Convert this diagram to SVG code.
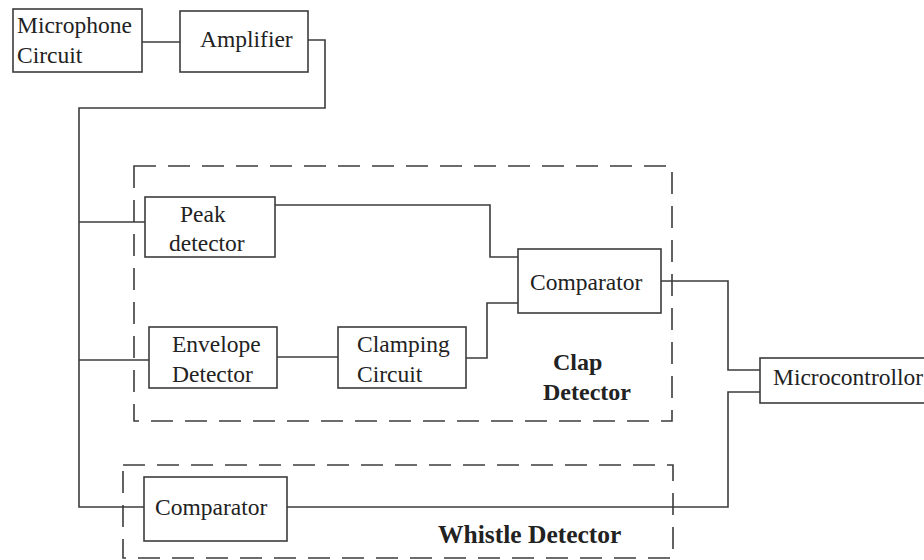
<svg xmlns="http://www.w3.org/2000/svg" width="924" height="560" viewBox="0 0 924 560">
<style>
.box{fill:#fff;stroke:#3c3c3c;stroke-width:1.6}
.grp{fill:none;stroke:#3c3c3c;stroke-width:1.6;stroke-dasharray:22 12}
.wire{fill:none;stroke:#3c3c3c;stroke-width:1.6}
text{font-family:"Liberation Serif","Times New Roman",serif;font-size:23.5px;fill:#222}
.b{font-weight:bold;font-size:24px}
</style>
<rect width="924" height="560" fill="#fff"/>
<g id="clap-group">
<rect class="grp" x="134" y="166" width="538" height="255"/>
<text class="b" x="553" y="370">Clap</text>
<text class="b" x="543" y="400">Detector</text>
</g>
<g id="whistle-group">
<rect class="grp" x="123" y="465" width="550" height="93"/>
<text class="b" x="438" y="543" style="font-size:25.5px">Whistle Detector</text>
</g>
<g id="connectors">
<path class="wire" d="M142 42H180"/>
<path class="wire" d="M308 40H325V108H79V507H144"/>
<path class="wire" d="M79 222H145"/>
<path class="wire" d="M79 360H149"/>
<path class="wire" d="M275 205H490V257H518"/>
<path class="wire" d="M277 357H338"/>
<path class="wire" d="M466 358H487V303H518"/>
<path class="wire" d="M661 281H728V370H760"/>
<path class="wire" d="M287 507H728V392H760"/>
</g>
<g id="microphone">
<rect class="box" x="13" y="9" width="129" height="63"/>
<text x="17" y="33">Microphone</text>
<text x="17" y="63">Circuit</text>
</g>
<g id="amplifier">
<rect class="box" x="180" y="11" width="128" height="61"/>
<text x="200" y="47">Amplifier</text>
</g>
<g id="peak">
<rect class="box" x="145" y="197" width="130" height="60"/>
<text x="180" y="222">Peak</text>
<text x="169" y="251">detector</text>
</g>
<g id="envelope">
<rect class="box" x="149" y="327" width="128" height="61"/>
<text x="172" y="352">Envelope</text>
<text x="172" y="382">Detector</text>
</g>
<g id="clamping">
<rect class="box" x="338" y="327" width="128" height="61"/>
<text x="357" y="352">Clamping</text>
<text x="357" y="382">Circuit</text>
</g>
<g id="comparator-clap">
<rect class="box" x="518" y="249" width="143" height="64"/>
<text x="530" y="290">Comparator</text>
</g>
<g id="microcontroller">
<rect class="box" x="760" y="358" width="175" height="45"/>
<text x="773" y="385">Microcontrollor</text>
</g>
<g id="comparator-whistle">
<rect class="box" x="144" y="477" width="143" height="64"/>
<text x="155" y="515">Comparator</text>
</g>
</svg>
